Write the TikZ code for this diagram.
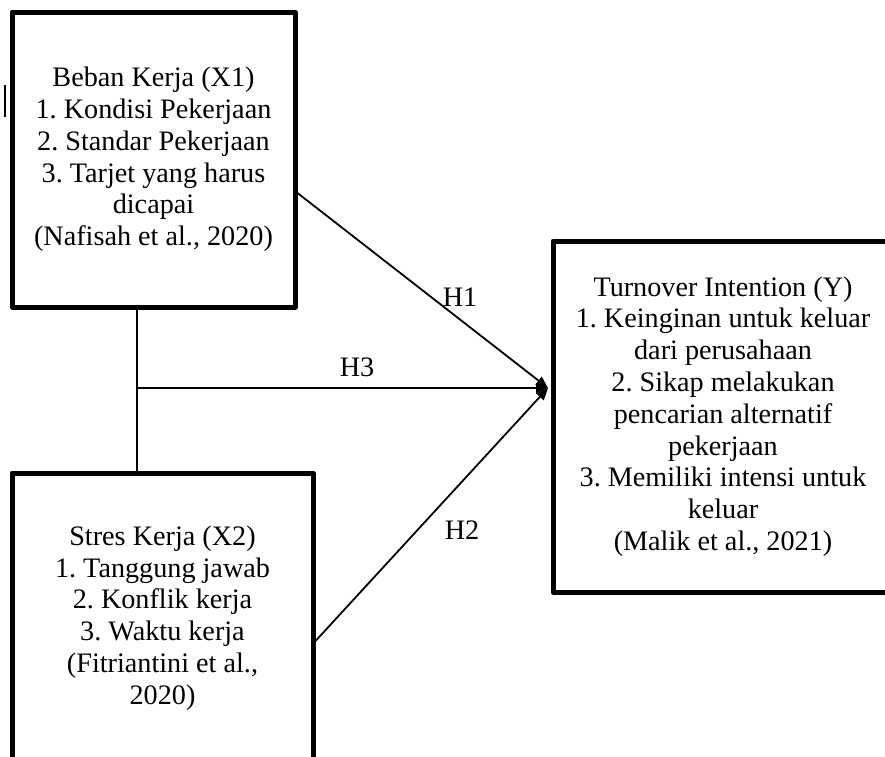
\documentclass[tikz,border=0pt]{standalone}
\usepackage{fontspec}
\setmainfont{Liberation Serif}
\usetikzlibrary{arrows.meta,calc}
\begin{document}
\frenchspacing
\begin{tikzpicture}[x=1pt,y=-1pt,
  box/.style={draw,line width=5pt,line join=round,align=center,
    font=\fontsize{28.2}{31.8}\selectfont,inner sep=0pt},
  conn/.style={line width=1.8pt},
  arr/.style={conn,-{Triangle[length=12pt,width=10pt]}},
  lbl/.style={font=\fontsize{28.2}{31.8}\selectfont,inner sep=0pt}]
\useasboundingbox (0,0) rectangle (885,756);
\clip (0,0) rectangle (885,756);
\fill[white] (0,0) rectangle (885,756);

\node[box,minimum width=283pt,minimum height=295pt] (x1) at (153.5,159.5)
  {Beban Kerja (X1)\\1. Kondisi Pekerjaan\\2. Standar Pekerjaan\\3. Tarjet yang harus\\dicapai\\(Nafisah et al., 2020)};
\node[box,minimum width=301pt,minimum height=290pt] (x2) at (162.5,618)
  {Stres Kerja (X2)\\1. Tanggung jawab\\2. Konflik kerja\\3. Waktu kerja\\(Fitriantini et al.,\\2020)};
\node[box,minimum width=340pt,minimum height=351pt] (yy) at (723,416.5)
  {Turnover Intention (Y)\\1. Keinginan untuk keluar\\dari perusahaan\\2. Sikap melakukan\\pencarian alternatif\\pekerjaan\\3. Memiliki intensi untuk\\keluar\\(Malik et al., 2021)};

\coordinate (tip) at ([xshift=-2.5pt,yshift=28.5pt]yy.west);
\coordinate (jn) at (137,388);

\draw[conn] (x1.south -| jn) -- (x2.north -| jn);
\draw[arr] (jn) -- (tip);
\draw[arr] ([yshift=-33.5pt]x1.east) -- (tip);
\draw[arr] ([yshift=-23pt]x2.east) -- (tip);

\node[lbl] (h1) at (460,297) {H1};
\node[lbl] (h3) at (357,367) {H3};
\node[lbl] (h2) at (462,530) {H2};

\draw[line width=1.2pt] (5,85) -- (5,117);
\end{tikzpicture}
\end{document}
